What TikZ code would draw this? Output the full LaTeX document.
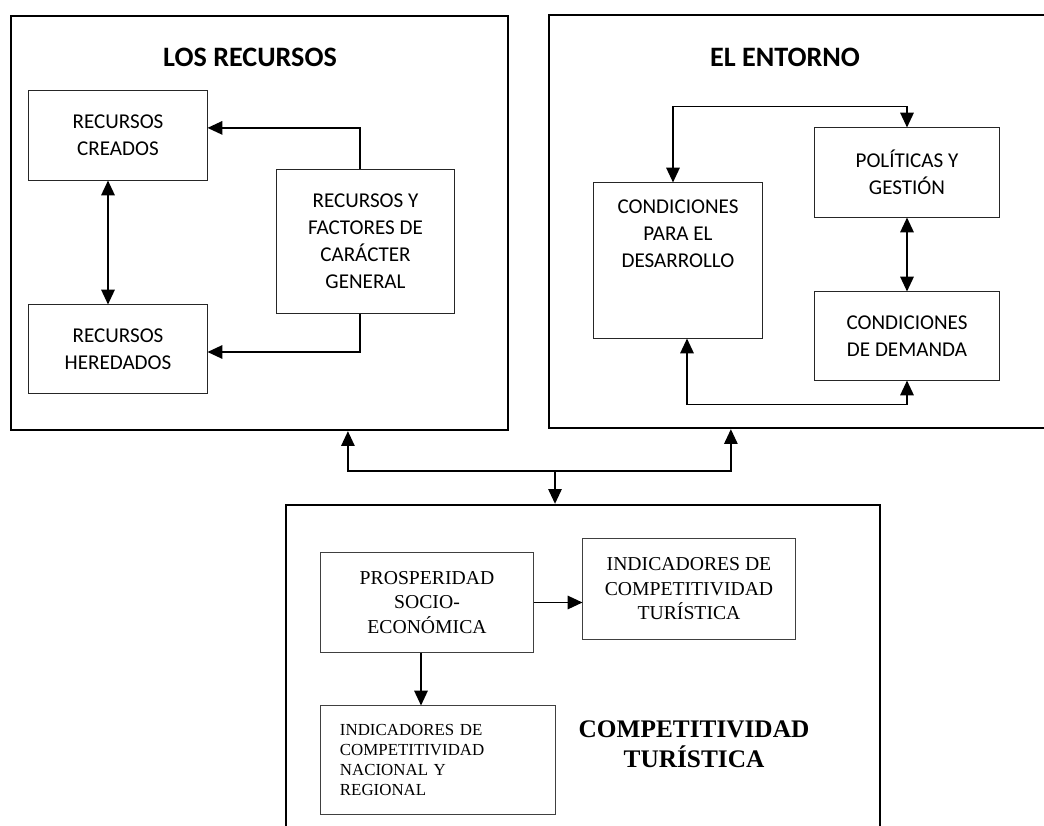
\documentclass[tikz,border=0pt]{standalone}
\usepackage{fontspec}
\setmainfont{Carlito}
\newfontfamily\fuenteserif{Liberation Serif}
\usetikzlibrary{shapes, arrows.meta}
\tikzstyle{marco} = [rectangle, draw=black, line width=1.6pt]
\tikzstyle{caja} = [rectangle, draw=black!85, line width=0.7pt, align=center, font=\fontsize{15}{19.2}\selectfont]
\tikzstyle{cajaserif} = [rectangle, draw=black!75, line width=0.7pt, align=center, font=\fuenteserif\fontsize{14}{17.4}\selectfont]
\tikzstyle{titulo} = [font=\bfseries\fontsize{20}{24}\selectfont]
\tikzstyle{flecha} = [line width=1.2pt, -{Triangle[length=10.5pt,width=9.5pt]}]
\tikzstyle{dflecha} = [line width=1.2pt, {Triangle[length=10.5pt,width=9.5pt]}-{Triangle[length=10.5pt,width=9.5pt]}]

\begin{document}
\begin{tikzpicture}[x=0.025cm, y=-0.025cm]
    \useasboundingbox (0,0) rectangle (1044,826);

    % los recursos
    \node (marcoRec) [marco, minimum width=12.425cm, minimum height=10.35cm] at (259.5,223) {};
    \node (titRec) [titulo] at (250,57) {LOS RECURSOS};
    \node (creados) [caja, minimum width=4.45cm, minimum height=2.225cm] at (118,135.5) {RECURSOS\\CREADOS};
    \node (heredados) [caja, minimum width=4.45cm, minimum height=2.2cm] at (118,349) {RECURSOS\\HEREDADOS};
    \node (factores) [caja, minimum width=4.425cm, minimum height=3.575cm] at (365.5,241.5) {RECURSOS Y\\FACTORES DE\\CARÁCTER\\GENERAL};

    \draw [flecha] ([xshift=-0.14cm]factores.north) |- ([yshift=0.19cm]creados.east);
    \draw [flecha] ([xshift=-0.14cm]factores.south) |- ([yshift=-0.075cm]heredados.east);
    \draw [dflecha] ([xshift=-0.25cm]creados.south) -- ([xshift=-0.25cm]heredados.north);

    % el entorno
    \node (marcoEnt) [marco, minimum width=12.775cm, minimum height=10.325cm] at (804.5,221.5) {};
    \node (titEnt) [titulo] at (785,57) {EL ENTORNO};
    \node (desarrollo) [caja, inner sep=0pt, minimum width=4.2cm, minimum height=3.875cm] at (678,260.5) {\parbox[c][3.875cm][t]{4.2cm}{\centering\vspace*{0.42cm}CONDICIONES\\PARA EL\\DESARROLLO}};
    \node (polit) [caja, minimum width=4.6cm, minimum height=2.225cm] at (907,172.5) {POLÍTICAS Y\\GESTIÓN};
    \node (demanda) [caja, minimum width=4.6cm, minimum height=2.2cm] at (907,336) {CONDICIONES\\DE DEMANDA};

    \draw [dflecha] ([xshift=-0.125cm]desarrollo.north) -- ++(0,-76) -| (polit.north);
    \draw [dflecha] (polit) -- (demanda);
    \draw [dflecha] ([xshift=0.225cm]desarrollo.south) -- ++(0,66) -| (demanda.south);

    % competitividad
    \node (marcoComp) [marco, minimum width=14.85cm, minimum height=9.125cm] at (583,687.5) {};
    \node (prosperidad) [cajaserif, minimum width=5.3cm, minimum height=2.475cm] at (427,602.5) {PROSPERIDAD\\SOCIO-\\ECONÓMICA};
    \node (indTur) [cajaserif, minimum width=5.3cm, minimum height=2.5cm] at (689,589) {INDICADORES DE\\COMPETITIVIDAD\\TURÍSTICA};
    \node (indNac) [cajaserif, font=\fuenteserif\fontsize{12}{14.2}\selectfont, align=left, text width=4.9cm, inner xsep=0.475cm, minimum height=2.7cm] at (438,760) {INDICADORES DE\\COMPETITIVIDAD\\NACIONAL Y\\REGIONAL};
    \node (titComp) [font=\fuenteserif\bfseries\fontsize{18}{21}\selectfont, align=center] at (694,744) {COMPETITIVIDAD\\TURÍSTICA};

    \draw [flecha] (prosperidad.east) -- (prosperidad.east -| indTur.west);
    \draw [flecha] ([xshift=-0.15cm]prosperidad.south) -- ([xshift=-0.15cm]prosperidad.south |- indNac.north);

    % enlaces entre bloques
    \coordinate (reparto) at (555,471);
    \draw [flecha] (reparto) -| ([xshift=2.21cm]marcoRec.south);
    \draw [flecha] (reparto) -| ([xshift=-1.84cm]marcoEnt.south);
    \draw [flecha] (reparto) -- (reparto |- marcoComp.north);
\end{tikzpicture}
\end{document}
